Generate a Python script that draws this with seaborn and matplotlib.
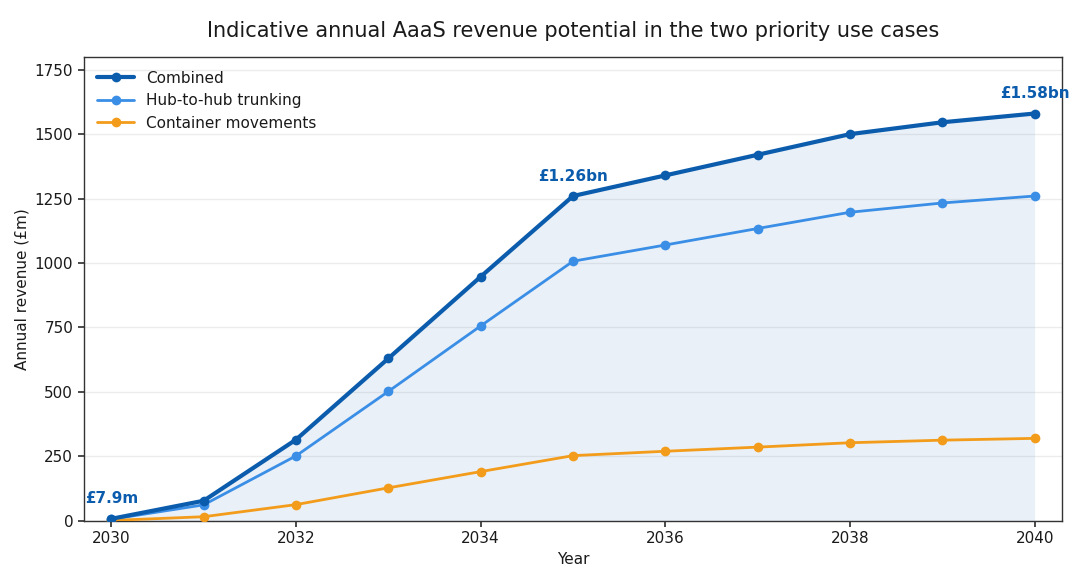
import seaborn as sns
import matplotlib.pyplot as plt
import pandas as pd

DARK, MID, ORANGE = '#0b5cad', '#3a8ee6', '#f39c1b'
TEXT = '#1a1a1a'

years = [2030, 2031, 2032, 2033, 2034, 2035, 2036, 2037, 2038, 2039, 2040]
combined = [7.9, 78, 315, 630, 947, 1260, 1340, 1420, 1500, 1546, 1580]
hub = [6.3, 62, 252, 502, 756, 1007, 1070, 1134, 1197, 1233, 1260]
container = [1.6, 16, 63, 128, 191, 253, 270, 286, 303, 313, 320]
labels = {2030: '£7.9m', 2035: '£1.26bn', 2040: '£1.58bn'}

df = pd.DataFrame({'Year': years, 'Combined': combined,
                   'Hub-to-hub trunking': hub, 'Container movements': container})

sns.set_theme(style='white', rc={'text.color': TEXT, 'axes.labelcolor': TEXT,
                                 'xtick.color': TEXT, 'ytick.color': TEXT})
plt.rcParams['font.family'] = ['DejaVu Sans']

fig, ax = plt.subplots(figsize=(10.72, 5.68), dpi=100)

ax.fill_between(df['Year'], 0, df['Combined'], color=DARK, alpha=0.085, lw=0)
sns.lineplot(data=df, x='Year', y='Combined', ax=ax, color=DARK, lw=3,
             marker='o', markersize=7, markeredgewidth=0, label='Combined', zorder=4)
sns.lineplot(data=df, x='Year', y='Hub-to-hub trunking', ax=ax, color=MID, lw=2,
             marker='o', markersize=7, markeredgewidth=0, label='Hub-to-hub trunking', zorder=3)
sns.lineplot(data=df, x='Year', y='Container movements', ax=ax, color=ORANGE, lw=2,
             marker='o', markersize=7, markeredgewidth=0, label='Container movements', zorder=3)

for yr, txt in labels.items():
    val = df.loc[df['Year'] == yr, 'Combined'].values[0]
    ax.annotate(txt, (yr, val), xytext=(0, 9), textcoords='offset points',
                ha='center', va='bottom', fontsize=11, fontweight='bold', color=DARK)

ax.set_xlim(2029.7, 2040.3)
ax.set_ylim(0, 1800)
ax.set_xticks([2030, 2032, 2034, 2036, 2038, 2040])
ax.set_yticks([0, 250, 500, 750, 1000, 1250, 1500, 1750])
ax.yaxis.grid(True, color='#ececec', lw=1)
ax.set_axisbelow(True)
for sp in ax.spines.values():
    sp.set_edgecolor('#333333')
    sp.set_linewidth(1)
ax.tick_params(axis='both', labelsize=11, length=4, color='#333333', bottom=True, left=True)
ax.set_xlabel('Year', fontsize=11)
ax.set_ylabel('Annual revenue (£m)', fontsize=11)
ax.set_title('Indicative annual AaaS revenue potential in the two priority use cases',
             fontsize=15, pad=14)
ax.legend(loc='upper left', frameon=False, fontsize=11, handlelength=2.4)

plt.subplots_adjust(left=0.078, right=0.991, top=0.9, bottom=0.083)
plt.savefig('out.png', dpi=100)
